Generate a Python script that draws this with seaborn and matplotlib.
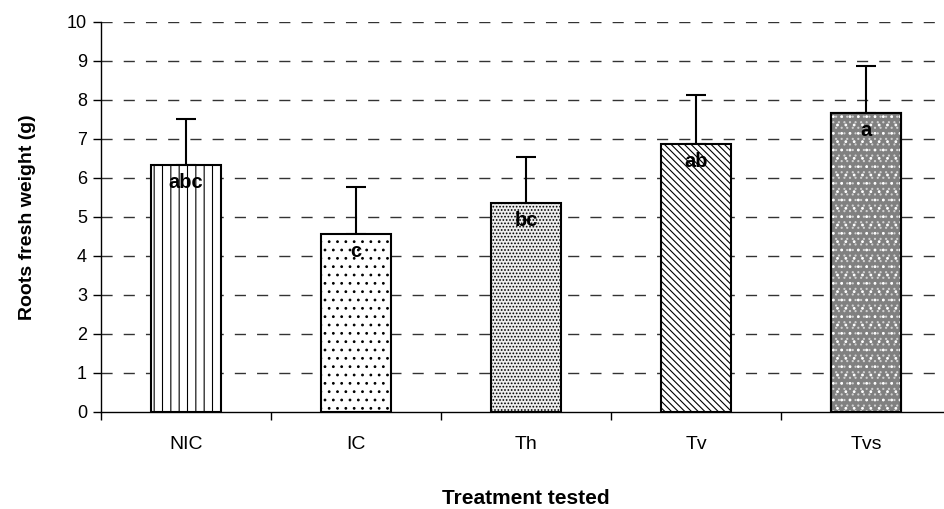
import matplotlib
matplotlib.use("Agg")
import matplotlib.pyplot as plt
import numpy as np
import pandas as pd
import seaborn as sns

treatments = ["NIC", "IC", "Th", "Tv", "Tvs"]
fresh_weight = [6.33, 4.57, 5.36, 6.87, 7.67]
err_upper = [1.19, 1.19, 1.19, 1.25, 1.19]
letters = ["abc", "c", "bc", "ab", "a"]

hatches = ["||", "..", ".....", "\\\\\\\\\\", None]
faces = ["white", "white", "#eeeeee", "white", "#808080"]

sns.set_style("white")
plt.rcParams["font.family"] = ["Liberation Sans", "DejaVu Sans"]
plt.rcParams["hatch.linewidth"] = 0.8
for k in ["text.color", "axes.labelcolor", "xtick.color", "ytick.color"]:
    plt.rcParams[k] = "black"

df = pd.DataFrame({"treatment": treatments, "weight": fresh_weight})

fig = plt.figure(figsize=(9.44, 5.09), dpi=100)
ax = fig.add_axes([0.107, 0.1906, 0.9004, 0.7662])

sns.barplot(data=df, x="treatment", y="weight", order=treatments, width=0.41,
            color="white", edgecolor="black", linewidth=1.5, ax=ax, zorder=3)

for p, h, fc in zip(ax.patches, hatches, faces):
    if h:
        p.set_hatch(h)
    p.set_facecolor(fc)

# white dots over the dark Tvs bar
x = np.arange(len(treatments))
ax.bar(x[4:], fresh_weight[4:], width=0.41, facecolor="none", edgecolor="#cfcfcf",
       linewidth=0, hatch="...", zorder=3.5)
ax.bar(x[4:], fresh_weight[4:], width=0.41, facecolor="none", edgecolor="white",
       linewidth=0, hatch="..", zorder=3.55)
ax.bar(x[4:], fresh_weight[4:], width=0.41, facecolor="none", edgecolor="black",
       linewidth=1.5, zorder=3.6)

ax.errorbar(x, fresh_weight, yerr=[np.zeros(len(x)), err_upper], fmt="none",
            ecolor="black", elinewidth=1.5, capsize=7, capthick=1.5, zorder=2)

for xi, v, lab in zip(x, fresh_weight, letters):
    ax.text(xi, v - 0.2, lab, ha="center", va="top", fontsize=14.5,
            fontweight="bold", zorder=5)

ax.set_ylim(0, 10)
ax.set_xlim(-0.5, 4.5)
ax.set_yticks(range(0, 11))
ax.set_xticks(np.arange(-0.5, 5, 1), minor=False)
ax.set_xticklabels([])
ax.set_xticks(x, minor=True)
ax.set_xticklabels(treatments, minor=True)
ax.tick_params(axis="x", which="major", length=6, width=1, direction="out", bottom=True)
ax.tick_params(axis="x", which="minor", length=0, pad=17, labelsize=14)
ax.tick_params(axis="y", length=6, width=1, direction="out", left=True, labelsize=13, pad=4)

for yv in range(1, 11):
    ax.axhline(yv, color="#333333", linewidth=1, linestyle=(0, (8, 8)), zorder=1)

sns.despine(ax=ax, top=True, right=True)
for s in ["left", "bottom"]:
    ax.spines[s].set_linewidth(1)
    ax.spines[s].set_color("black")

ax.set_xlabel("Treatment tested", fontsize=15, fontweight="bold", labelpad=26)
ax.set_ylabel("Roots fresh weight (g)", fontsize=14, fontweight="bold", labelpad=22)

fig.savefig("out.png", dpi=100)
